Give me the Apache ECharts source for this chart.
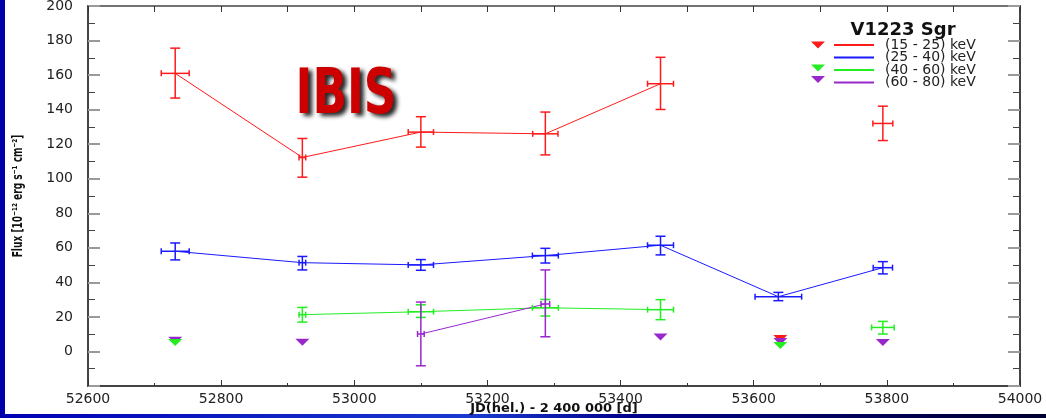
<!DOCTYPE html>
<html>
<head>
<meta charset="utf-8">
<script src="https://cdn.jsdelivr.net/npm/echarts@6.0.0/dist/echarts.min.js"></script>
<style>
  html, body { margin: 0; padding: 0; background: #0000a8; }
  #main { width: 1046px; height: 418px; }
</style>
</head>
<body>
<div id="main"></div>
<script>
// x = JD(hel.) - 2 400 000, y = flux in 1e-12 erg/s/cm2
// lo/hi are the ends of the vertical error bar, xErr the half width in days
var redX = [52731, 52922, 53100, 53287, 53460, 53794];
var redY = [161, 112.3, 127, 126, 155, 132];
var redXErr = [21, 5, 19, 19, 19.5, 15];
var redLo = [146.7, 100.9, 118.3, 113.8, 140.1, 122.1];
var redHi = [175.6, 123.3, 135.9, 138.6, 170.3, 142];
var redJoined = 5; // last point is not on the line

var blueX = [52731, 52922, 53100, 53287, 53460, 53637, 53794];
var blueY = [58, 51.4, 50.1, 55.5, 61.5, 31.7, 48.5];
var blueXErr = [21, 5, 19, 19.5, 19.5, 35, 14.5];
var blueLo = [53, 47.2, 47, 51.2, 55.9, 29.4, 44.9];
var blueHi = [62.8, 55, 53.2, 59.7, 66.7, 34.2, 52];
var blueJoined = 7;

var greenX = [52922, 53100, 53287, 53460, 53794];
var greenY = [21.3, 23, 25.3, 24.2, 13.9];
var greenXErr = [5, 19, 19.5, 19.5, 17];
var greenLo = [17, 19.7, 20.5, 18.4, 10.1];
var greenHi = [25.5, 27, 30.1, 30, 17.4];
var greenJoined = 4;

var purpleX = [53100, 53287];
var purpleY = [10.1, 27.5];
var purpleXErr = [5, 6.5];
var purpleLo = [-8.3, 8.5];
var purpleHi = [28.6, 47.2];
var purpleJoined = 2;

// upper limits (down triangles)
var redUlX = [53640];
var redUlY = [7.5];
var greenUlX = [52731, 53640];
var greenUlY = [5.2, 3.5];
var purpleUlX = [52731, 52922, 53460, 53640, 53794];
var purpleUlY = [6.5, 5.4, 8.3, 5.8, 5.2];

var bands = ['(15 - 25) keV', '(25 - 40) keV', '(40 - 60) keV', '(60 - 80) keV'];
var ulNames = ['ul 15-25', 'ul 25-40', 'ul 40-60', 'ul 60-80'];

var RED = '#ff1a1a', BLUE = '#1a1aff', GREEN = '#22ee22', PURPLE = '#9928cc';
var TRI = 'path://M0,0L14,0L7,7Z';
var FONT = 'DejaVu Sans';

function pairs(xs, ys, n) {
    var out = [];
    for (var i = 0; i < n; i++) out.push([xs[i], ys[i]]);
    return out;
}

function lineSeries(name, xs, ys, n, color) {
    return {
        name: name,
        type: 'line',
        symbol: 'none',
        z: 3,
        color: color,
        lineStyle: {color: color, width: 1},
        data: pairs(xs, ys, n)
    };
}

function errorSeries(name, xs, ys, xErr, lo, hi, color) {
    var data = [];
    for (var i = 0; i < xs.length; i++) data.push([xs[i], ys[i], xErr[i], lo[i], hi[i]]);
    return {
        name: name + ' err',
        type: 'custom',
        z: 4,
        silent: true,
        encode: {x: 0, y: [3, 4]},
        data: data,
        renderItem: function (params, api) {
            var x = api.value(0), y = api.value(1), dx = api.value(2);
            var c = api.coord([x, y]);
            var l = api.coord([x - dx, y]);
            var r = api.coord([x + dx, y]);
            var b = api.coord([x, api.value(3)]);
            var t = api.coord([x, api.value(4)]);
            var cap = 5, tick = 3;
            var style = {stroke: color, lineWidth: 1.5};
            function seg(x1, y1, x2, y2) {
                return {type: 'line', shape: {x1: x1, y1: y1, x2: x2, y2: y2}, style: style};
            }
            return {
                type: 'group',
                children: [
                    seg(c[0], t[1], c[0], b[1]),
                    seg(c[0] - cap, t[1], c[0] + cap, t[1]),
                    seg(c[0] - cap, b[1], c[0] + cap, b[1]),
                    seg(l[0], c[1], r[0], c[1]),
                    seg(l[0], c[1] - tick, l[0], c[1] + tick),
                    seg(r[0], c[1] - tick, r[0], c[1] + tick)
                ]
            };
        }
    };
}

function ulSeries(name, xs, ys, color) {
    return {
        name: name,
        type: 'scatter',
        symbol: TRI,
        symbolSize: [14, 7],
        z: 5,
        itemStyle: {color: color, opacity: 1},
        data: pairs(xs, ys, xs.length)
    };
}

var tickText = {fontFamily: FONT, fontSize: 14, color: '#222'};
function plain(v) { return String(v); }

var option = {
    animation: false,
    backgroundColor: '#0000a8',
    grid: {left: 88, right: 26, top: 6, bottom: 32, outerBoundsMode: 'none'},
    graphic: [
        {type: 'rect', z: -10, shape: {x: 5, y: 0, width: 1041, height: 414}, style: {fill: '#ffffff'}},
        {type: 'rect', z: -10, shape: {x: 5, y: 414, width: 1041, height: 4},
            style: {fill: new echarts.graphic.LinearGradient(0, 0, 1, 0, [
                {offset: 0, color: '#0000b4'}, {offset: 0.45, color: '#1a3ad0'},
                {offset: 0.6, color: '#00008a'}, {offset: 1, color: '#000030'}])}},
        {type: 'text', z: 10, style: {text: 'V1223 Sgr', x: 903, y: 30, align: 'center', verticalAlign: 'middle',
            font: 'bold 18px "DejaVu Sans"', fill: '#111'}},
        {type: 'text', z: 10, x: 346, y: 97, scaleX: 0.8,
            style: {text: 'IBIS', x: 0, y: 0, align: 'center', verticalAlign: 'middle',
                font: 'bold 63px "DejaVu Sans Condensed", sans-serif', fill: '#cc0000',
                textShadowColor: 'rgba(0,0,0,0.85)', textShadowBlur: 4, textShadowOffsetX: 4, textShadowOffsetY: 3}},
        {type: 'text', z: 10, x: 18, y: 196, rotation: Math.PI / 2, scaleX: 0.72,
            style: {text: 'Flux [10⁻¹² erg s⁻¹ cm⁻²]', x: 0, y: 0, align: 'center', verticalAlign: 'middle',
                font: 'bold 14px "DejaVu Sans Condensed", sans-serif', fill: '#111'}}
    ],
    legend: [
        {
            data: bands,
            orient: 'vertical',
            left: 829,
            top: 33,
            icon: 'rect',
            itemWidth: 40,
            itemHeight: 2,
            itemGap: -1.5,
            selectedMode: false,
            textStyle: {fontFamily: FONT, fontSize: 14, color: '#222', padding: [0, 0, 0, 6]}
        },
        {
            data: [{name: ulNames[0]}, {name: ulNames[1], itemStyle: {opacity: 0}}, {name: ulNames[2]}, {name: ulNames[3]}],
            orient: 'vertical',
            left: 806,
            top: 34,
            icon: TRI,
            itemWidth: 14,
            itemHeight: 7,
            itemGap: -0.5,
            selectedMode: false,
            formatter: function () { return ' '; },
            textStyle: {fontSize: 12}
        }
    ],
    xAxis: [
        {
            type: 'value',
            position: 'bottom',
            min: 52600,
            max: 54000,
            interval: 200,
            name: 'JD(hel.) - 2 400 000 [d]',
            nameLocation: 'middle',
            nameGap: 23,
            nameMoveOverlap: false,
            nameTextStyle: {fontFamily: FONT, fontSize: 13, fontWeight: 'bold', color: '#111', verticalAlign: 'middle'},
            axisLine: {onZero: false, lineStyle: {color: '#444', width: 2}},
            axisTick: {inside: true, length: 6, lineStyle: {color: '#333'}},
            minorTick: {show: true, splitNumber: 2, length: 3, lineStyle: {color: '#333'}},
            axisLabel: Object.assign({margin: 6, formatter: plain}, tickText),
            splitLine: {show: false}
        },
        {
            type: 'value',
            position: 'top',
            min: 52600,
            max: 54000,
            interval: 100,
            axisLine: {show: true, onZero: false, lineStyle: {color: '#444', width: 1.5}},
            axisTick: {inside: true, length: 6, lineStyle: {color: '#333'}},
            axisLabel: {show: false},
            splitLine: {show: false}
        }
    ],
    yAxis: [
        {
            type: 'value',
            position: 'left',
            min: -20,
            max: 200,
            interval: 20,
            axisLine: {show: true, onZero: false, lineStyle: {color: '#444', width: 2}},
            axisTick: {inside: true, length: 12, lineStyle: {color: '#9a9a9a', width: 2}},
            minorTick: {show: true, splitNumber: 2, length: 7, lineStyle: {color: '#444', width: 1}},
            axisLabel: Object.assign({margin: 15, formatter: function (v) { return v < 0 ? '' : String(v); }}, tickText),
            splitLine: {show: false}
        },
        {
            type: 'value',
            position: 'right',
            min: -20,
            max: 200,
            interval: 20,
            axisLine: {show: true, onZero: false, lineStyle: {color: '#444', width: 2}},
            axisTick: {inside: true, length: 12, lineStyle: {color: '#9a9a9a', width: 2}},
            minorTick: {show: true, splitNumber: 2, length: 7, lineStyle: {color: '#444', width: 1}},
            axisLabel: {show: false},
            splitLine: {show: false}
        }
    ],
    series: [
        lineSeries(bands[0], redX, redY, redJoined, RED),
        lineSeries(bands[1], blueX, blueY, blueJoined, BLUE),
        lineSeries(bands[2], greenX, greenY, greenJoined, GREEN),
        lineSeries(bands[3], purpleX, purpleY, purpleJoined, PURPLE),
        errorSeries(bands[0], redX, redY, redXErr, redLo, redHi, RED),
        errorSeries(bands[1], blueX, blueY, blueXErr, blueLo, blueHi, BLUE),
        errorSeries(bands[2], greenX, greenY, greenXErr, greenLo, greenHi, GREEN),
        errorSeries(bands[3], purpleX, purpleY, purpleXErr, purpleLo, purpleHi, PURPLE),
        ulSeries(ulNames[0], redUlX, redUlY, RED),
        ulSeries(ulNames[1], [], [], BLUE),
        ulSeries(ulNames[3], purpleUlX, purpleUlY, PURPLE),
        ulSeries(ulNames[2], greenUlX, greenUlY, GREEN)
    ]
};

var chart = echarts.init(document.getElementById('main'));
chart.setOption(option);
</script>
</body>
</html>
